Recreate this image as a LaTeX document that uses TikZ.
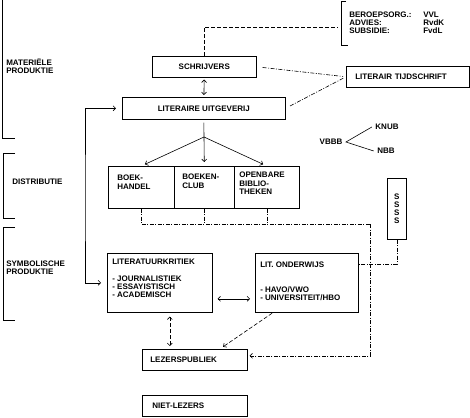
\documentclass[tikz,border=0pt]{standalone}
\usepackage{fontspec}
\setmainfont{Liberation Sans}
\usetikzlibrary{arrows.meta}
\newcommand{\vakje}[3]{\parbox[c][#2][t]{#1}{\raggedright #3}}
\tikzset{
  every node/.style={font=\bfseries\fontsize{8}{8.2}\selectfont},
  box/.style={draw, anchor=north west, inner sep=0pt},
  lbl/.style={align=left, inner sep=0pt, anchor=west},
  streep/.style={dash pattern=on 4pt off 2pt},
  streeppunt/.style={dash pattern=on 4pt off 1.5pt on 1pt off 1.5pt},
}
\begin{document}
\begin{tikzpicture}[x=1pt, y=-1pt, line width=0.6pt, >={Straight Barb[length=2.5pt,width=5pt]}]
  \useasboundingbox (0,0) rectangle (470,417);
  \node[lbl] (materieel) at (6,66) {MATERIËLE\\PRODUKTIE};
  \node[lbl] (distributie) at (12,182) {DISTRIBUTIE};
  \node[lbl] (symbolisch) at (6,267.5) {SYMBOLISCHE\\PRODUKTIE};
  \draw (2,0) -- (2,138) -- (15,138);
  \draw (15,153) -- (3,153) -- (3,218) -- (15,218);
  \draw (15,227) -- (3,227) -- (3,320) -- (15,320);
  \node[lbl] (functie) at (349,23) {BEROEPSORG.:\\ADVIES:\\SUBSIDIE:};
  \node[lbl] (instantie) at (423,23) {VVL\\RvdK\\FvdL};
  \draw (346,1) -- (341,1) -- (341,45) -- (348,45);
  \coordinate (haak) at (341,27);
  \node[box, minimum width=104pt, minimum height=21pt] (schrijvers) at (152,56) {SCHRIJVERS};
  \node[box, minimum width=163pt, minimum height=22pt] (uitgeverij) at (122,97) {LITERAIRE UITGEVERIJ};
  \node[box, text width=105pt, inner xsep=9pt, minimum height=21pt] (tijdschrift) at (346,66) {LITERAIR TIJDSCHRIFT};
  \node[box, inner xsep=9pt, inner ysep=9pt] (boekhandel) at (108,166) {\vakje{48pt}{24pt}{BOEK-\\HANDEL}};
  \node[box, inner xsep=8pt, inner ysep=8pt] (boekenclub) at (174,166) {\vakje{44pt}{26pt}{BOEKEN-\\CLUB}};
  \node[box, inner xsep=5pt, inner ysep=6pt] (bibliotheken) at (234,166) {\vakje{55pt}{30pt}{OPENBARE\\BIBLIO-\\THEKEN}};
  \node[box, minimum width=19pt, minimum height=61pt, align=center] (ssss) at (387,178) {S\\S\\S\\S};
  \node[box, inner xsep=5pt, inner ysep=6pt] (kritiek) at (107,253) {\vakje{95pt}{47pt}{LITERATUURKRITIEK\\[8pt]- JOURNALISTIEK\\- ESSAYISTISCH\\- ACADEMISCH}};
  \node[box, inner xsep=5pt, inner ysep=9pt] (onderwijs) at (255,253) {\vakje{93pt}{41pt}{LIT. ONDERWIJS\\[16pt]- HAVO/VWO\\- UNIVERSITEIT/HBO}};
  \node[box, text width=89pt, inner xsep=8pt, minimum height=21pt] (lezers) at (142,349) {LEZERSPUBLIEK};
  \node[box, text width=85pt, inner xsep=10pt, minimum height=21pt] (nietlezers) at (142,395) {NIET-LEZERS};
  \node (vbbb) at (331,142) {VBBB};
  \node (knub) at (387,127) {KNUB};
  \node (nbb) at (386,151) {NBB};
  \draw (knub.west) -- (vbbb.east) -- (nbb.west);
  \draw[streep, shorten >=3pt] (schrijvers.north) |- (haak);
  \draw[streeppunt, shorten <=6pt, shorten >=3pt] (schrijvers.east) -- (tijdschrift.west);
  \draw[streeppunt, shorten <=5pt, shorten >=3pt] (uitgeverij.east) -- (tijdschrift.west);
  \draw[<->, shorten <=2pt, shorten >=2pt] (schrijvers) -- (uitgeverij);
  \coordinate (splits) at (204,137);
  \draw[shorten <=3pt] (uitgeverij.south) -- (splits);
  \foreach \doel in {boekhandel, boekenclub, bibliotheken}
    \draw[->, shorten >=4pt] (splits) -- (\doel.north);
  \coordinate (terug) at (85,200);
  \draw[<->, shorten <=6pt, shorten >=6pt] (uitgeverij.west) -| (terug) |- (kritiek.west);
  \coordinate (verdeel) at (370,224);
  \draw[streeppunt] (boekhandel.south) |- (verdeel);
  \draw[streeppunt] (boekenclub.south) -- (boekenclub.south |- verdeel);
  \draw[streeppunt] (bibliotheken.south) -- (bibliotheken.south |- verdeel);
  \draw[streeppunt, ->, shorten >=2pt] (verdeel) |- ([yshift=4pt]lezers.east);
  \draw[streeppunt] (ssss.south) |- ([yshift=-11pt]onderwijs.north east);
  \draw[<->, shorten <=5pt, shorten >=5pt] ([yshift=-16pt]kritiek.east) -- ([yshift=-16pt]onderwijs.west);
  \coordinate (kl) at ([xshift=10pt]kritiek.south);
  \draw[streep, <->, shorten <=4pt, shorten >=3pt] (kl) -- (kl |- lezers.north);
  \draw[streep, ->, shorten <=1pt, shorten >=4pt] ([xshift=18pt]onderwijs.south west) -- ([xshift=25pt]lezers.north);
\end{tikzpicture}
\end{document}
